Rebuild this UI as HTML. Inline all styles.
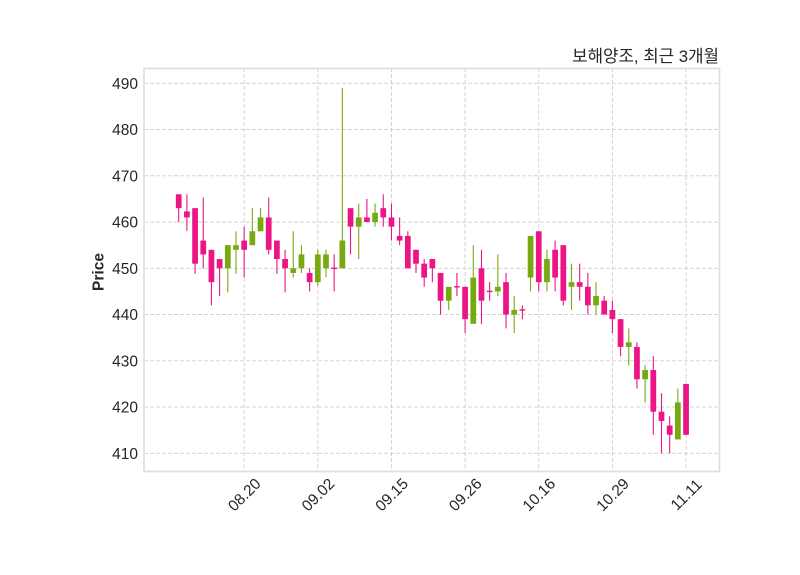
<!DOCTYPE html>
<html>
<head>
<meta charset="utf-8">
<style>
html,body{margin:0;padding:0;background:#fff;}
svg{display:block;}
text{font-family:"Liberation Sans","Noto Sans CJK KR",sans-serif;fill:#262626;}
.c line{vector-effect:non-scaling-stroke;stroke-width:1.1;}
</style>
</head>
<body>
<svg width="800" height="575" viewBox="0 0 800 575" xmlns="http://www.w3.org/2000/svg">
<rect x="0" y="0" width="800" height="575" fill="#fff"/>
<g stroke="#cfcfcf" stroke-width="0.9" stroke-dasharray="4,2" fill="none">
<line x1="144" y1="83.3" x2="720" y2="83.3"/>
<line x1="144" y1="129.55" x2="720" y2="129.55"/>
<line x1="144" y1="175.8" x2="720" y2="175.8"/>
<line x1="144" y1="222.05" x2="720" y2="222.05"/>
<line x1="144" y1="268.3" x2="720" y2="268.3"/>
<line x1="144" y1="314.55" x2="720" y2="314.55"/>
<line x1="144" y1="360.8" x2="720" y2="360.8"/>
<line x1="144" y1="407.05" x2="720" y2="407.05"/>
<line x1="144" y1="453.3" x2="720" y2="453.3"/>
<line x1="244.16" y1="68" x2="244.16" y2="472"/>
<line x1="317.81" y1="68" x2="317.81" y2="472"/>
<line x1="391.46" y1="68" x2="391.46" y2="472"/>
<line x1="465.11" y1="68" x2="465.11" y2="472"/>
<line x1="538.75" y1="68" x2="538.75" y2="472"/>
<line x1="612.40" y1="68" x2="612.40" y2="472"/>
<line x1="686.05" y1="68" x2="686.05" y2="472"/>
</g>
<g class="c" transform="matrix(8.183 0 0 -4.625 178.7 2349.55)">
<g stroke="#eb1585">
<line x1="0" y1="460" x2="0" y2="466"/>
<line x1="1" y1="458.1" x2="1" y2="466"/>
<line x1="2" y1="448.8" x2="2" y2="463"/>
<line x1="3" y1="450" x2="3" y2="465.3"/>
<line x1="4" y1="442" x2="4" y2="454"/>
<line x1="5" y1="444" x2="5" y2="452"/>
<line x1="8" y1="448" x2="8" y2="459"/>
<line x1="11" y1="453" x2="11" y2="465.3"/>
<line x1="12" y1="448.8" x2="12" y2="456"/>
<line x1="13" y1="444.8" x2="13" y2="454"/>
<line x1="16" y1="445" x2="16" y2="450"/>
<line x1="19" y1="445" x2="19" y2="453"/>
<line x1="21" y1="453" x2="21" y2="463"/>
<line x1="23" y1="460" x2="23" y2="465"/>
<line x1="25" y1="459" x2="25" y2="466"/>
<line x1="26" y1="456" x2="26" y2="464"/>
<line x1="27" y1="455" x2="27" y2="461"/>
<line x1="28" y1="450" x2="28" y2="458"/>
<line x1="29" y1="449" x2="29" y2="454"/>
<line x1="30" y1="446" x2="30" y2="452"/>
<line x1="31" y1="447" x2="31" y2="452"/>
<line x1="32" y1="440" x2="32" y2="449"/>
<line x1="34" y1="444" x2="34" y2="449"/>
<line x1="35" y1="436" x2="35" y2="446"/>
<line x1="37" y1="438" x2="37" y2="454"/>
<line x1="38" y1="443" x2="38" y2="447"/>
<line x1="40" y1="437" x2="40" y2="449"/>
<line x1="42" y1="439" x2="42" y2="442"/>
<line x1="44" y1="445" x2="44" y2="458"/>
<line x1="46" y1="445" x2="46" y2="456"/>
<line x1="47" y1="442" x2="47" y2="455"/>
<line x1="49" y1="443" x2="49" y2="451"/>
<line x1="50" y1="440" x2="50" y2="449"/>
<line x1="52" y1="440" x2="52" y2="444"/>
<line x1="53" y1="436" x2="53" y2="443"/>
<line x1="54" y1="431" x2="54" y2="439"/>
<line x1="56" y1="424" x2="56" y2="434"/>
<line x1="58" y1="414" x2="58" y2="431"/>
<line x1="59" y1="410" x2="59" y2="423"/>
<line x1="60" y1="410" x2="60" y2="418"/>
<line x1="62" y1="414" x2="62" y2="425"/>
</g>
<g stroke="#77aa11">
<line x1="6" y1="444.8" x2="6" y2="455"/>
<line x1="7" y1="448.8" x2="7" y2="458"/>
<line x1="9" y1="455" x2="9" y2="463"/>
<line x1="10" y1="458" x2="10" y2="463"/>
<line x1="14" y1="448" x2="14" y2="458"/>
<line x1="15" y1="449" x2="15" y2="455"/>
<line x1="17" y1="446.2" x2="17" y2="454"/>
<line x1="18" y1="448.1" x2="18" y2="454"/>
<line x1="20" y1="450" x2="20" y2="489"/>
<line x1="22" y1="452" x2="22" y2="464"/>
<line x1="24" y1="459" x2="24" y2="464"/>
<line x1="33" y1="441" x2="33" y2="446"/>
<line x1="36" y1="438" x2="36" y2="455"/>
<line x1="39" y1="444" x2="39" y2="453"/>
<line x1="41" y1="436" x2="41" y2="444"/>
<line x1="43" y1="445" x2="43" y2="457"/>
<line x1="45" y1="445" x2="45" y2="454"/>
<line x1="48" y1="441" x2="48" y2="451"/>
<line x1="51" y1="440" x2="51" y2="447"/>
<line x1="55" y1="429" x2="55" y2="437"/>
<line x1="57" y1="421" x2="57" y2="429"/>
<line x1="61" y1="413" x2="61" y2="424"/>
</g>
<g fill="#eb1585">
<rect x="-0.35" y="463" width="0.7" height="3"/>
<rect x="0.65" y="461" width="0.7" height="1.3"/>
<rect x="1.65" y="451" width="0.7" height="12"/>
<rect x="2.65" y="453" width="0.7" height="3"/>
<rect x="3.65" y="447" width="0.7" height="7"/>
<rect x="4.65" y="450" width="0.7" height="2"/>
<rect x="7.65" y="454" width="0.7" height="2"/>
<rect x="10.65" y="454" width="0.7" height="7"/>
<rect x="11.65" y="452" width="0.7" height="4"/>
<rect x="12.65" y="450" width="0.7" height="2"/>
<rect x="15.65" y="447" width="0.7" height="2"/>
<rect x="18.65" y="449.85" width="0.7" height="0.3"/>
<rect x="20.65" y="459" width="0.7" height="4"/>
<rect x="22.65" y="460" width="0.7" height="1"/>
<rect x="24.65" y="461" width="0.7" height="2"/>
<rect x="25.65" y="459" width="0.7" height="2"/>
<rect x="26.65" y="456" width="0.7" height="1"/>
<rect x="27.65" y="450" width="0.7" height="7"/>
<rect x="28.65" y="451" width="0.7" height="3"/>
<rect x="29.65" y="448" width="0.7" height="3"/>
<rect x="30.65" y="450" width="0.7" height="2"/>
<rect x="31.65" y="443" width="0.7" height="6"/>
<rect x="33.65" y="445.85" width="0.7" height="0.3"/>
<rect x="34.65" y="439" width="0.7" height="7"/>
<rect x="36.65" y="443" width="0.7" height="7"/>
<rect x="37.65" y="444.85" width="0.7" height="0.3"/>
<rect x="39.65" y="440" width="0.7" height="7"/>
<rect x="41.65" y="440.85" width="0.7" height="0.3"/>
<rect x="43.65" y="447" width="0.7" height="11"/>
<rect x="45.65" y="448" width="0.7" height="6"/>
<rect x="46.65" y="443" width="0.7" height="12"/>
<rect x="48.65" y="446" width="0.7" height="1"/>
<rect x="49.65" y="442" width="0.7" height="4"/>
<rect x="51.65" y="440" width="0.7" height="3"/>
<rect x="52.65" y="439" width="0.7" height="2"/>
<rect x="53.65" y="433" width="0.7" height="6"/>
<rect x="55.65" y="426" width="0.7" height="7"/>
<rect x="57.65" y="419" width="0.7" height="9"/>
<rect x="58.65" y="417" width="0.7" height="2"/>
<rect x="59.65" y="414" width="0.7" height="2"/>
<rect x="61.65" y="414" width="0.7" height="11"/>
</g>
<g fill="#77aa11">
<rect x="5.65" y="450" width="0.7" height="5"/>
<rect x="6.65" y="454" width="0.7" height="1"/>
<rect x="8.65" y="455" width="0.7" height="3"/>
<rect x="9.65" y="458" width="0.7" height="3"/>
<rect x="13.65" y="449" width="0.7" height="1"/>
<rect x="14.65" y="450" width="0.7" height="3"/>
<rect x="16.65" y="447" width="0.7" height="6"/>
<rect x="17.65" y="450" width="0.7" height="3"/>
<rect x="19.65" y="450" width="0.7" height="6"/>
<rect x="21.65" y="459" width="0.7" height="2"/>
<rect x="23.65" y="460" width="0.7" height="2"/>
<rect x="32.65" y="443" width="0.7" height="3"/>
<rect x="35.65" y="438" width="0.7" height="10"/>
<rect x="38.65" y="445" width="0.7" height="1"/>
<rect x="40.65" y="440" width="0.7" height="1"/>
<rect x="42.65" y="448" width="0.7" height="9"/>
<rect x="44.65" y="447" width="0.7" height="5"/>
<rect x="47.65" y="446" width="0.7" height="1"/>
<rect x="50.65" y="442" width="0.7" height="2"/>
<rect x="54.65" y="433" width="0.7" height="1"/>
<rect x="56.65" y="426" width="0.7" height="2"/>
<rect x="60.65" y="413" width="0.7" height="8"/>
</g>
</g>
<rect x="144" y="68.5" width="575.5" height="403" fill="none" stroke="#dddddd" stroke-width="1.6"/>
<g font-size="15.5" text-anchor="end">
<text x="138" y="88.8">490</text>
<text x="138" y="135.05">480</text>
<text x="138" y="181.3">470</text>
<text x="138" y="227.55">460</text>
<text x="138" y="273.8">450</text>
<text x="138" y="320.05">440</text>
<text x="138" y="366.3">430</text>
<text x="138" y="412.55">420</text>
<text x="138" y="458.8">410</text>
</g>
<g font-size="15.5" text-anchor="middle">
<text transform="translate(244.16,494.5) rotate(-45)" y="5.5">08.20</text>
<text transform="translate(317.81,494.5) rotate(-45)" y="5.5">09.02</text>
<text transform="translate(391.46,494.5) rotate(-45)" y="5.5">09.15</text>
<text transform="translate(465.11,494.5) rotate(-45)" y="5.5">09.26</text>
<text transform="translate(538.75,494.5) rotate(-45)" y="5.5">10.16</text>
<text transform="translate(612.40,494.5) rotate(-45)" y="5.5">10.29</text>
<text transform="translate(686.05,494.5) rotate(-45)" y="5.5">11.11</text>
</g>
<text transform="translate(98,272) rotate(-90)" text-anchor="middle" y="5.5" font-size="15.5" font-weight="bold">Price</text>
<text x="719" y="62" text-anchor="end" font-size="16.8">보해양조, 최근 3개월</text>
</svg>
</body>
</html>
